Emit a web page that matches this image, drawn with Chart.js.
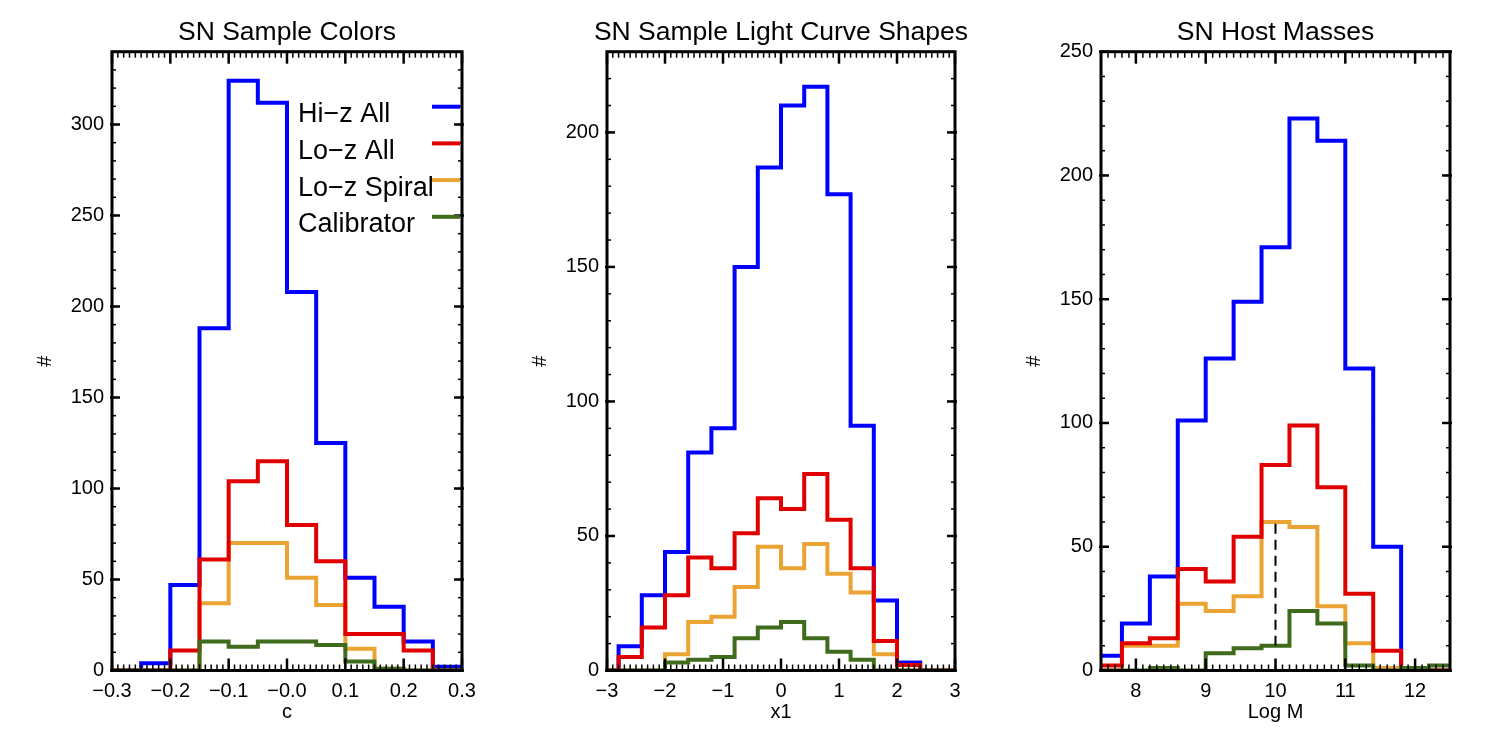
<!DOCTYPE html>
<html>
<head>
<meta charset="utf-8">
<script src="https://cdn.jsdelivr.net/npm/chart.js@4.4.1/dist/chart.umd.min.js"></script>
<style>
  html, body { margin: 0; padding: 0; background: #fff; }
  #wrap { position: relative; width: 1489px; height: 744px; }
  .panel { position: absolute; top: 0; height: 744px; }
</style>
</head>
<body>
<div id="wrap">
  <div class="panel" style="left:32px;width:460px"><canvas id="colors"></canvas></div>
  <div class="panel" style="left:527px;width:458px"><canvas id="shapes"></canvas></div>
  <div class="panel" style="left:1021px;width:459px"><canvas id="masses"></canvas></div>
</div>
<script>
// ─── DATA: SN sample colours (c) ───────────────────────────────────────────
const colorBins   = [-0.30, -0.25, -0.20, -0.15, -0.10, -0.05, 0.00, 0.05, 0.10, 0.15, 0.20, 0.25];
const colorWidth  = 0.05;
const colorHiz    = [0, 4, 47, 188, 324, 312, 208, 125, 51, 35, 16, 2];
const colorLoz    = [0, 0, 11, 61, 104, 115, 80, 60, 20, 20, 11, 0];
const colorSpiral = [0, 0, 0, 37, 70, 70, 51, 36, 12, 1, 0, 0];
const colorCalib  = [0, 0, 0, 16, 13, 16, 16, 14, 5, 1, 0, 0];
const colorTicks  = [-0.3, -0.2, -0.1, 0, 0.1, 0.2, 0.3];
const colorTickLabels = ['−0.3', '−0.2', '−0.1', '−0.0', '0.1', '0.2', '0.3'];
const colorYTicks = [0, 50, 100, 150, 200, 250, 300];

// ─── DATA: light curve shapes (x1) ─────────────────────────────────────────
const shapeBins   = [-3.2, -2.8, -2.4, -2.0, -1.6, -1.2, -0.8, -0.4, 0.0, 0.4, 0.8, 1.2, 1.6, 2.0, 2.4, 2.8];
const shapeWidth  = 0.4;
const shapeHiz    = [0, 9, 28, 44, 81, 90, 150, 187, 210, 217, 177, 91, 26, 3, 0, 0];
const shapeLoz    = [0, 5, 16, 28, 42, 38, 51, 64, 60, 73, 56, 38, 11, 2, 0, 0];
const shapeSpiral = [0, 0, 0, 6, 18, 20, 31, 46, 38, 47, 36, 29, 6, 0, 0, 0];
const shapeCalib  = [0, 0, 0, 3, 4, 5, 12, 16, 18, 12, 7, 4, 0, 0, 0, 0];
const shapeTicks  = [-3, -2, -1, 0, 1, 2, 3];
const shapeTickLabels = ['−3', '−2', '−1', '0', '1', '2', '3'];
const shapeYTicks = [0, 50, 100, 150, 200];

// ─── DATA: host masses (Log M) ─────────────────────────────────────────────
const massBins   = [7.4, 7.8, 8.2, 8.6, 9.0, 9.4, 9.8, 10.2, 10.6, 11.0, 11.4, 11.8, 12.2];
const massWidth  = 0.4;
const massHiz    = [6, 19, 38, 101, 126, 149, 171, 223, 214, 122, 50, 0, 0];
const massLoz    = [2, 11, 13, 41, 36, 54, 83, 99, 74, 31, 8, 0, 0];
const massSpiral = [0, 10, 10, 27, 24, 30, 60, 58, 26, 11, 1, 0, 0];
const massCalib  = [0, 0, 1, 0, 7, 9, 10, 24, 19, 2, 0, 1, 2];
const massTicks  = [8, 9, 10, 11, 12];
const massTickLabels = ['8', '9', '10', '11', '12'];
const massYTicks = [0, 50, 100, 150, 200, 250];
const massCut    = [10, 10];   // Log M of the split
const massCutY   = [10, 60];   // extent of the dashed marker

const seriesNames  = ['Hi−z All', 'Lo−z All', 'Lo−z Spiral', 'Calibrator'];
const seriesColors = ['#0000ff', '#e00000', '#eba433', '#3f6b1c'];
const seriesOrder  = [4, 2, 3, 1];   // blue underneath, green on top

const FONT = '"Liberation Sans", Arial, Helvetica, sans-serif';

// histogram bins -> step points (left edges + closing right edge)
function steps(bins, width, vals) {
  const pts = bins.map((b, i) => ({ x: b, y: vals[i] }));
  pts.push({ x: bins[bins.length - 1] + width, y: vals[vals.length - 1] });
  return pts;
}

function histSets(bins, width, series) {
  return series.map((vals, i) => ({
    label: seriesNames[i],
    data: steps(bins, width, vals),
    borderColor: seriesColors[i],
    borderWidth: 4,
    stepped: 'before',
    pointRadius: 0,
    fill: false,
    order: seriesOrder[i],
    borderJoinStyle: 'miter',
    borderCapStyle: 'butt'
  }));
}

// ─── Box with inward major/minor ticks on all four sides ───────────────────
const frame = {
  id: 'frame',
  afterDatasetsDraw(chart, args, o) {
    const { ctx, chartArea: a, scales: { x, y } } = chart;
    const range = (min, max, step) => {
      const n = Math.round((max - min) / step), out = [];
      for (let k = 0; k <= n; k++) out.push(min + k * step);
      return out;
    };
    const line = (x1, y1, x2, y2) => { ctx.beginPath(); ctx.moveTo(x1, y1); ctx.lineTo(x2, y2); ctx.stroke(); };
    ctx.save();
    ctx.strokeStyle = '#000';

    ctx.lineWidth = 1.5;
    range(x.min, x.max, o.xMinor).forEach(v => {
      const px = x.getPixelForValue(v);
      line(px, a.bottom, px, a.bottom - 6);
      line(px, a.top, px, a.top + 6);
    });
    range(y.min, y.max, o.yMinor).forEach(v => {
      const py = y.getPixelForValue(v);
      line(a.left, py, a.left + 4, py);
      line(a.right, py, a.right - 4, py);
    });

    ctx.lineWidth = 2.5;
    o.xMajor.forEach(v => {
      const px = x.getPixelForValue(v);
      line(px, a.bottom, px, a.bottom - 12);
      line(px, a.top, px, a.top + 12);
    });
    o.yMajor.forEach(v => {
      const py = y.getPixelForValue(v);
      line(a.left - 2, py, a.left + 8, py);
      line(a.right + 2, py, a.right - 8, py);
    });

    ctx.lineWidth = 3;
    ctx.strokeRect(a.left, a.top, a.right - a.left, a.bottom - a.top);
    ctx.restore();
  }
};

// ─── Panel title centred over the plot box ─────────────────────────────────
const boxTitle = {
  id: 'boxTitle',
  afterDraw(chart, args, o) {
    const { ctx, chartArea: a } = chart;
    ctx.save();
    ctx.font = '26.5px ' + FONT;
    ctx.fillStyle = '#000';
    ctx.textAlign = 'center';
    ctx.textBaseline = 'middle';
    ctx.fillText(o.text, (a.left + a.right) / 2, a.top - 19);
    ctx.restore();
  }
};

// ─── Legend of the first panel: text, then a short line sample ─────────────
const sideLegend = {
  id: 'sideLegend',
  afterDraw(chart, args, o) {
    if (!o.show) return;
    const { ctx, chartArea: a } = chart;
    ctx.save();
    ctx.font = '27px ' + FONT;
    ctx.fillStyle = '#000';
    ctx.textBaseline = 'middle';
    ctx.textAlign = 'left';
    seriesNames.forEach((name, i) => {
      const ty = a.top + 63 + i * 36.7;
      ctx.fillText(name, a.left + 186, ty);
      ctx.strokeStyle = seriesColors[i];
      ctx.lineWidth = 4;
      ctx.beginPath();
      ctx.moveTo(a.right - 30, ty - 8);
      ctx.lineTo(a.right - 2, ty - 8);
      ctx.stroke();
    });
    ctx.restore();
  }
};

function makePanel(id, cfg) {
  const tickFont = { family: FONT, size: 20 };
  const axisFont = { family: FONT, size: 20 };
  new Chart(document.getElementById(id), {
    type: 'line',
    data: { datasets: cfg.datasets },
    options: {
      responsive: true,
      maintainAspectRatio: false,
      animation: false,
      events: [],
      layout: { padding: { left: 0, right: 30, top: 51.7, bottom: 0 } },
      plugins: {
        legend: { display: false },
        tooltip: { enabled: false },
        title: { display: false },
        boxTitle: { text: cfg.title },
        frame: { xMajor: cfg.xTicks, xMinor: cfg.xMinor, yMajor: cfg.yTicks, yMinor: 10 },
        sideLegend: { show: !!cfg.legend }
      },
      scales: {
        x: {
          type: 'linear', min: cfg.xMin, max: cfg.xMax,
          afterBuildTicks: s => { s.ticks = cfg.xTicks.map(v => ({ value: v })); },
          afterFit: s => { s.height = 73.5; },
          grid: { display: false, drawTicks: false },
          border: { display: false },
          ticks: {
            padding: 9, color: '#000', font: tickFont, maxRotation: 0, autoSkip: false,
            callback: (v, i) => cfg.xLabels[i]
          },
          title: { display: true, text: cfg.xTitle, color: '#000', font: axisFont, padding: { top: 0, bottom: 20 } }
        },
        y: {
          type: 'linear', min: 0, max: cfg.yMax,
          afterBuildTicks: s => { s.ticks = cfg.yTicks.map(v => ({ value: v })); },
          afterFit: s => { s.width = 80; },
          grid: { display: false, drawTicks: false },
          border: { display: false },
          ticks: { padding: 8, color: '#000', font: tickFont },
          title: { display: true, text: '#', color: '#000', font: axisFont, padding: { top: 1, bottom: 0 } }
        }
      }
    },
    plugins: [frame, boxTitle, sideLegend]
  });
}

makePanel('colors', {
  title: 'SN Sample Colors', xTitle: 'c',
  xMin: -0.3, xMax: 0.3, xTicks: colorTicks, xLabels: colorTickLabels, xMinor: 0.01,
  yMax: 340, yTicks: colorYTicks, legend: true,
  datasets: histSets(colorBins, colorWidth, [colorHiz, colorLoz, colorSpiral, colorCalib])
});

makePanel('shapes', {
  title: 'SN Sample Light Curve Shapes', xTitle: 'x1',
  xMin: -3, xMax: 3, xTicks: shapeTicks, xLabels: shapeTickLabels, xMinor: 0.1,
  yMax: 230, yTicks: shapeYTicks,
  datasets: histSets(shapeBins, shapeWidth, [shapeHiz, shapeLoz, shapeSpiral, shapeCalib])
});

makePanel('masses', {
  title: 'SN Host Masses', xTitle: 'Log M',
  xMin: 7.5, xMax: 12.5, xTicks: massTicks, xLabels: massTickLabels, xMinor: 0.1,
  yMax: 250, yTicks: massYTicks,
  datasets: histSets(massBins, massWidth, [massHiz, massLoz, massSpiral, massCalib]).concat([{
    label: 'split',
    data: massCut.map((m, i) => ({ x: m, y: massCutY[i] })),
    borderColor: '#000',
    borderWidth: 2,
    borderDash: [10, 6],
    pointRadius: 0,
    fill: false,
    order: 0
  }])
});
</script>
</body>
</html>
